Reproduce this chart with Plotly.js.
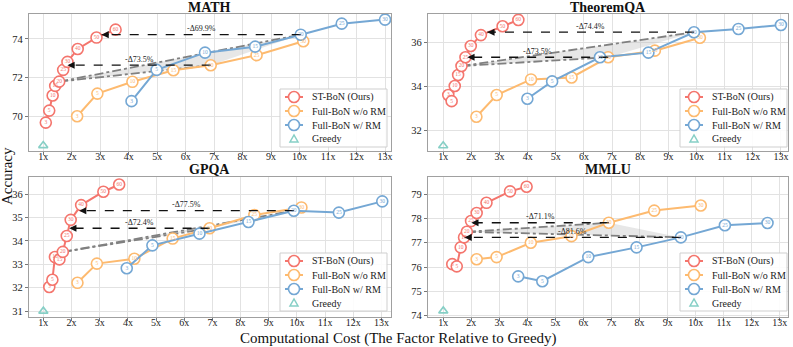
<html lang="en">
<head>
<meta charset="UTF-8" />
<title>ST-BoN cost vs accuracy</title>
<script src="https://cdn.plot.ly/plotly-3.0.1.min.js"></script>
<style>body { margin: 0; }</style>
</head>
<body>
<div id="chart" style="width:793px;height:347px;"></div>
<script>
const xTickVals = [1, 2, 3, 4, 5, 6, 7, 8, 9, 10, 11, 12, 13];
const xTickText = ['1x', '2x', '3x', '4x', '5x', '6x', '7x', '8x', '9x', '10x', '11x', '12x', '13x'];

// N labels inside the markers
const stLabels = ['3', '5', '10', '15', '20', '25', '30', '40', '50', '60'];
const fullLabels = ['3', '5', '10', '15', '20', '25', '30'];

// MATH
const mathStX = [1.09, 1.21, 1.33, 1.42, 1.56, 1.70, 1.85, 2.21, 2.87, 3.54];
const mathStY = [69.67, 70.29, 71.07, 71.57, 71.79, 72.40, 72.81, 73.48, 74.07, 74.48];
const mathFullX = [2.19, 2.90, 4.13, 5.57, 6.88, 8.49, 10.13];
const mathFullY = [70.0, 71.17, 71.78, 72.38, 72.64, 73.16, 73.88];
const mathRmX = [4.10, 4.98, 6.68, 8.44, 10.04, 11.48, 13.0];
const mathRmY = [70.78, 72.40, 73.29, 73.60, 74.22, 74.79, 75.0];
const mathGreedy = 68.48;
const mathArrowTo = [3.05, 1.85];
const mathArrowText = ['-Δ69.9%', '-Δ73.5%'];

// TheoremQA
const tqaStX = [1.18, 1.30, 1.41, 1.53, 1.65, 1.79, 1.98, 2.34, 3.11, 3.67];
const tqaStY = [33.60, 33.32, 34.01, 34.51, 34.92, 35.32, 35.83, 36.33, 36.73, 37.02];
const tqaFullX = [2.18, 2.90, 4.12, 5.56, 6.86, 8.52, 10.12];
const tqaFullY = [32.61, 33.60, 34.31, 34.40, 35.32, 35.62, 36.21];
const tqaRmX = [3.99, 4.87, 6.57, 8.29, 9.91, 11.49, 13.0];
const tqaRmY = [33.43, 34.22, 35.32, 35.53, 36.46, 36.61, 36.79];
const tqaGreedy = 31.29;
const tqaArrowTo = [2.57, 1.86];
const tqaArrowText = ['-Δ74.4%', '-Δ73.5%'];

// GPQA
const gpqaStX = [1.21, 1.32, 1.41, 1.57, 1.69, 1.83, 1.97, 2.34, 3.13, 3.69];
const gpqaStY = [32.03, 32.34, 33.31, 33.21, 33.53, 34.21, 34.90, 35.53, 36.10, 36.41];
const gpqaFullX = [2.21, 2.90, 4.23, 5.59, 6.90, 8.49, 10.16];
const gpqaFullY = [32.21, 33.03, 33.24, 34.10, 34.54, 35.11, 35.43];
const gpqaRmX = [3.96, 4.87, 6.54, 8.28, 9.89, 11.49, 13.03];
const gpqaRmY = [32.83, 33.81, 34.31, 34.81, 35.29, 35.21, 35.69];
const gpqaGreedy = 31.0;
const gpqaArrowTo = [2.27, 1.92];
const gpqaArrowText = ['-Δ77.5%', '-Δ72.4%'];

// MMLU
const mmluStX = [1.32, 1.48, 1.62, 1.74, 1.84, 1.99, 2.19, 2.54, 3.38, 3.97];
const mmluStY = [76.12, 76.03, 76.81, 77.22, 77.45, 77.89, 78.22, 78.64, 79.11, 79.30];
const mmluFullX = [2.19, 2.90, 4.12, 5.57, 6.90, 8.52, 10.18];
const mmluFullY = [76.32, 76.41, 77.0, 77.27, 77.82, 78.32, 78.53];
const mmluRmX = [3.67, 4.53, 6.17, 7.89, 9.47, 11.04, 12.56];
const mmluRmY = [75.62, 75.42, 76.41, 76.81, 77.22, 77.72, 77.81];
const mmluGreedy = 74.2;
const mmluArrowTo = [2.0, 1.76];
const mmluArrowText = ['-Δ71.1%', '-Δ81.6%'];

const RED = '#F4756D';
const ORANGE = '#FDBA6F';
const BLUE = '#74A7D4';
const TEAL = '#86CFC6';
const SERIF = 'Liberation Serif, Times New Roman, serif';
const W = 793, H = 347;
const toPX = v => v / W;
const toPY = v => 1 - v / H;

const panels = [
  { title: 'MATH', id: '', box: [29, 391, 14, 151], xRange: [0.5, 13.21], yRange: [68.2, 75.29], yTicks: [70, 72, 74],
    st: [mathStX, mathStY], full: [mathFullX, mathFullY], rm: [mathRmX, mathRmY], greedy: mathGreedy,
    arrows: [{ src: 'rm', to: mathArrowTo[0], text: mathArrowText[0] }, { src: 'full', to: mathArrowTo[1], text: mathArrowText[1] }],
    legendAt: [280, 89] },
  { title: 'TheoremQA', id: '2', box: [428, 788, 14, 151], xRange: [0.46, 13.25], yRange: [31.05, 37.29], yTicks: [32, 34, 36],
    st: [tqaStX, tqaStY], full: [tqaFullX, tqaFullY], rm: [tqaRmX, tqaRmY], greedy: tqaGreedy,
    arrows: [{ src: 'rm', to: tqaArrowTo[0], text: tqaArrowText[0] }, { src: 'full', to: tqaArrowTo[1], text: tqaArrowText[1] }],
    legendAt: [680, 89] },
  { title: 'GPQA', id: '3', box: [29, 391, 177, 317], xRange: [0.49, 13.34], yRange: [30.75, 36.73], yTicks: [31, 32, 33, 34, 35, 36],
    st: [gpqaStX, gpqaStY], full: [gpqaFullX, gpqaFullY], rm: [gpqaRmX, gpqaRmY], greedy: gpqaGreedy,
    arrows: [{ src: 'rm', to: gpqaArrowTo[0], text: gpqaArrowText[0] }, { src: 'full', to: gpqaArrowTo[1], text: gpqaArrowText[1] }],
    legendAt: [280, 253] },
  { title: 'MMLU', id: '4', box: [428, 788, 177, 317], xRange: [0.455, 13.29], yRange: [73.95, 79.70], yTicks: [74, 75, 76, 77, 78, 79],
    st: [mmluStX, mmluStY], full: [mmluFullX, mmluFullY], rm: [mmluRmX, mmluRmY], greedy: mmluGreedy,
    arrows: [{ src: 'full', to: mmluArrowTo[0], text: mmluArrowText[0] }, { src: 'rm', to: mmluArrowTo[1], text: mmluArrowText[1] }],
    legendAt: [680, 253] }
];

const traces = [];
const shapes = [];
const annotations = [];
const layout = {
  width: W, height: H,
  margin: { l: 0, r: 0, t: 0, b: 0 },
  paper_bgcolor: 'white', plot_bgcolor: 'white',
  showlegend: false,
  font: { family: SERIF, color: '#222' }
};

const K = 4; // index of the N=20 point used for the comparison triangle

panels.forEach(p => {
  const xa = 'x' + p.id, ya = 'y' + p.id;
  const [L, R, T, B] = p.box;
  const tickfont = { family: SERIF, size: 10.5, color: '#222' };
  const common = {
    showgrid: true, gridcolor: '#e2e2e2', gridwidth: 1, zeroline: false,
    showline: true, linecolor: '#a0a0a0', linewidth: 1.2, mirror: true,
    ticks: 'outside', ticklen: 3, tickcolor: '#777', tickfont: tickfont, fixedrange: true
  };
  layout['xaxis' + p.id] = Object.assign({}, common, {
    domain: [toPX(L), toPX(R)], range: p.xRange, anchor: ya,
    tickmode: 'array', tickvals: xTickVals, ticktext: xTickText, ticklabelstandoff: -7,
    tickfont: { family: SERIF, size: 10, color: '#222' }
  });
  layout['yaxis' + p.id] = Object.assign({}, common, {
    domain: [toPY(B), toPY(T)], range: p.yRange, anchor: xa,
    tickmode: 'array', tickvals: p.yTicks
  });

  const series = { st: p.st, full: p.full, rm: p.rm };
  const stX = p.st[0], stY = p.st[1];

  // shaded comparison triangle + dash-dot lines
  const fx = p.full[0][K], fy = p.full[1][K];
  const rx = p.rm[0][K], ry = p.rm[1][K];
  traces.push({
    x: [stX[K], fx, rx, stX[K]], y: [stY[K], fy, ry, stY[K]], xaxis: xa, yaxis: ya,
    mode: 'lines', fill: 'toself', fillcolor: 'rgba(185,185,185,0.35)', line: { width: 0 }, hoverinfo: 'skip'
  });
  [[fx, fy], [rx, ry]].forEach(([ex, ey]) => {
    traces.push({
      x: [stX[K], ex], y: [stY[K], ey], xaxis: xa, yaxis: ya, mode: 'lines',
      line: { color: '#808080', width: 1.8, dash: 'dashdot' }, hoverinfo: 'skip'
    });
  });

  // series
  const styles = [
    ['full', ORANGE, fullLabels],
    ['rm', BLUE, fullLabels],
    ['st', RED, stLabels]
  ];
  styles.forEach(([key, color]) => {
    traces.push({
      x: series[key][0], y: series[key][1], xaxis: xa, yaxis: ya,
      mode: 'lines+markers', line: { color: color, width: 2 },
      marker: { symbol: 'circle', size: 11, color: 'white', line: { color: color, width: 1.6 } }
    });
  });

  // dashed arrows (drawn above lines)
  p.arrows.forEach(a => {
    const sx = series[a.src][0][K], sy = series[a.src][1][K];
    traces.push({
      x: [sx, a.to], y: [sy, sy], xaxis: xa, yaxis: ya, mode: 'lines',
      line: { color: '#111', width: 1.3, dash: 'dash' }, hoverinfo: 'skip'
    });
    annotations.push({
      xref: xa, yref: ya, axref: xa, ayref: ya, x: a.to, y: sy, ax: a.to + 0.3, ay: sy,
      showarrow: true, arrowhead: 2, arrowsize: 1.1, arrowwidth: 1.3, arrowcolor: '#111', text: ''
    });
    annotations.push({
      xref: xa, yref: ya, x: (sx + a.to) / 2, y: sy, yshift: 6, showarrow: false,
      xanchor: 'center', yanchor: 'middle',
      text: a.text, font: { family: SERIF, size: 8, color: '#222' }
    });
  });

  // labels inside markers
  styles.forEach(([key, color, labels]) => {
    traces.push({
      x: series[key][0], y: series[key][1], xaxis: xa, yaxis: ya,
      mode: 'text', text: labels, textposition: 'middle center',
      textfont: { family: SERIF, size: 5.5, color: color }, hoverinfo: 'skip'
    });
  });

  // greedy
  traces.push({
    x: [1], y: [p.greedy], xaxis: xa, yaxis: ya, mode: 'markers',
    marker: { symbol: 'triangle-up-open', size: 8, color: TEAL, line: { color: TEAL, width: 1.6 } }
  });

  // title
  annotations.push({
    xref: 'paper', yref: 'paper', x: toPX((L + R) / 2), y: toPY(T - 7), xanchor: 'center', yanchor: 'middle',
    text: '<b>' + p.title + '</b>', showarrow: false, font: { family: SERIF, size: 14, color: '#111' }
  });

  // legend box drawn by hand so the rows stay tight
  const [lx, ly] = p.legendAt;
  shapes.push({
    type: 'rect', xref: 'paper', yref: 'paper', x0: toPX(lx), x1: toPX(lx + 107), y0: toPY(ly + 58), y1: toPY(ly),
    line: { color: '#cfcfcf', width: 1 }, fillcolor: 'rgba(255,255,255,0.9)'
  });
  const items = [['ST-BoN (Ours)', RED], ['Full-BoN w/o RM', ORANGE], ['Full-BoN w/ RM', BLUE], ['Greedy', TEAL]];
  items.forEach(([name, color], i) => {
    const cy = ly + 8 + 14 * i;
    if (i < 3) {
      shapes.push({
        type: 'line', xref: 'paper', yref: 'paper', x0: toPX(lx + 5), x1: toPX(lx + 23), y0: toPY(cy), y1: toPY(cy),
        line: { color: color, width: 2 }
      });
      shapes.push({
        type: 'circle', xref: 'paper', yref: 'paper', xsizemode: 'pixel', ysizemode: 'pixel',
        xanchor: toPX(lx + 14), yanchor: toPY(cy), x0: -5.5, x1: 5.5, y0: -5.5, y1: 5.5,
        line: { color: color, width: 1.6 }, fillcolor: 'white'
      });
    } else {
      shapes.push({
        type: 'path', xref: 'paper', yref: 'paper', xsizemode: 'pixel', ysizemode: 'pixel',
        xanchor: toPX(lx + 14), yanchor: toPY(cy), path: 'M-4,-3 L4,-3 L0,4 Z',
        line: { color: color, width: 1.5 }, fillcolor: 'white'
      });
    }
    annotations.push({
      xref: 'paper', yref: 'paper', x: toPX(lx + 30), y: toPY(cy), xanchor: 'left', yanchor: 'middle',
      text: name, showarrow: false, font: { family: SERIF, size: 10, color: '#222' }
    });
  });
});

// shared axis titles
annotations.push({
  xref: 'paper', yref: 'paper', x: toPX(7), y: toPY(176), xanchor: 'center', yanchor: 'middle', textangle: -90,
  showarrow: false, text: 'Accuracy', font: { family: SERIF, size: 15, color: '#111' }
});
annotations.push({
  xref: 'paper', yref: 'paper', x: toPX(398), y: toPY(338), xanchor: 'center', yanchor: 'middle', showarrow: false,
  text: 'Computational Cost (The Factor Relative to Greedy)', font: { family: SERIF, size: 15, color: '#111' }
});

layout.shapes = shapes;
layout.annotations = annotations;

Plotly.newPlot('chart', traces, layout, { displayModeBar: false, staticPlot: true });
</script>
</body>
</html>
